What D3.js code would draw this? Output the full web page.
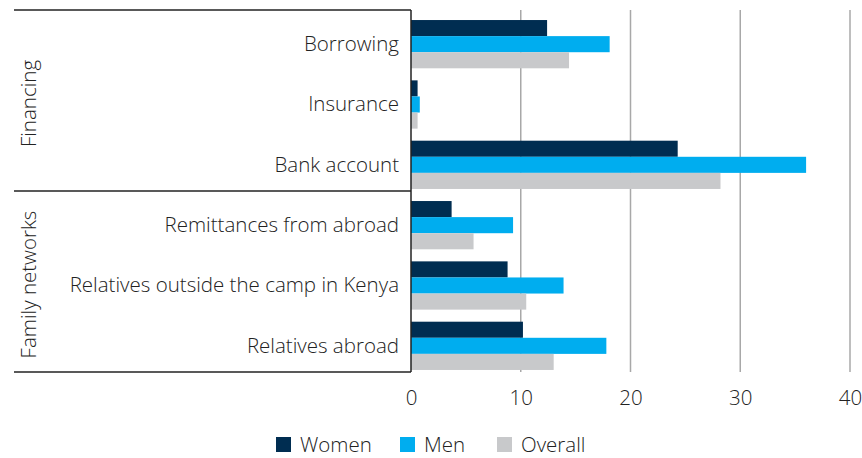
<!DOCTYPE html>
<html>
<head>
<meta charset="utf-8">
<script src="https://cdn.jsdelivr.net/npm/d3@7"></script>
<style>
  body { margin: 0; background: #fff; }
  svg text { font-family: "Open Sans", sans-serif; font-weight: 300; fill: #222; font-size: 20.5px; }
</style>
</head>
<body>
<script>
var categories = ["Borrowing", "Insurance", "Bank account",
  "Remittances from abroad", "Relatives outside the camp in Kenya", "Relatives abroad"];
var groups = [
  {name: "Financing", members: ["Borrowing", "Insurance", "Bank account"]},
  {name: "Family networks", members: ["Remittances from abroad", "Relatives outside the camp in Kenya", "Relatives abroad"]}
];
var seriesNames = ["Women", "Men", "Overall"];
var seriesColors = ["#002d51", "#00adef", "#c8c9cb"];
var women   = [12.4, 0.6, 24.3, 3.7, 8.8, 10.2];
var men     = [18.1, 0.8, 36.0, 9.3, 13.9, 17.8];
var overall = [14.4, 0.6, 28.2, 5.7, 10.5, 13.0];
var xTicks = [0, 10, 20, 30, 40];

var width = 862, height = 458;
var boxTop = 10, boxBottom = 372, boxMid = 191, boxLeft = 14;

var data = categories.map(function(c, i) {
  return {cat: c, vals: [women[i], men[i], overall[i]]};
});

var svg = d3.select("body").append("svg")
  .attr("width", width)
  .attr("height", height);

var x = d3.scaleLinear().domain([0, 40]).range([411, 850]);
var y = d3.scaleBand().domain(categories).range([14, 376]).paddingInner(0.2).paddingOuter(0.1);
var ySub = d3.scaleBand().domain(seriesNames).range([0, y.bandwidth()]);

// gridlines
svg.append("g").selectAll("line")
  .data(xTicks.slice(1))
  .enter().append("line")
    .attr("x1", d => x(d)).attr("x2", d => x(d))
    .attr("y1", boxTop).attr("y2", boxBottom)
    .attr("stroke", "#a8a8a8")
    .attr("stroke-width", 1.5);

// bars
var rows = svg.append("g").selectAll("g")
  .data(data)
  .enter().append("g")
    .attr("transform", d => "translate(0," + y(d.cat) + ")");

rows.selectAll("rect")
  .data(d => d.vals.map((v, i) => ({v: v, s: seriesNames[i], c: seriesColors[i]})))
  .enter().append("rect")
    .attr("x", x(0))
    .attr("y", d => ySub(d.s))
    .attr("width", d => x(d.v) - x(0))
    .attr("height", ySub.bandwidth())
    .attr("fill", d => d.c);

// category labels
svg.append("g").selectAll("text")
  .data(categories)
  .enter().append("text")
    .attr("x", 399)
    .attr("y", d => y(d) + y.bandwidth() / 2)
    .attr("dy", "0.33em")
    .attr("text-anchor", "end")
    .text(d => d);

// group box
var boxLines = [
  [boxLeft, boxTop, x(0), boxTop],
  [boxLeft, boxMid, x(0), boxMid],
  [boxLeft, boxBottom, x(0), boxBottom],
  [x(0), boxTop, x(0), boxBottom]
];
svg.append("g").selectAll("line")
  .data(boxLines)
  .enter().append("line")
    .attr("x1", d => d[0]).attr("y1", d => d[1])
    .attr("x2", d => d[2]).attr("y2", d => d[3])
    .attr("stroke", "#222")
    .attr("stroke-width", 1.5);

var groupSpans = [[boxTop, boxMid], [boxMid, boxBottom]];
svg.append("g").selectAll("text")
  .data(groups)
  .enter().append("text")
    .attr("transform", (d, i) => "translate(36," + ((groupSpans[i][0] + groupSpans[i][1]) / 2 + 3) + ") rotate(-90)")
    .attr("text-anchor", "middle")
    .text(d => d.name);

// x axis tick labels
var xAxis = d3.axisBottom(x).tickValues(xTicks).tickSize(0).tickPadding(0);
var ax = svg.append("g")
  .attr("transform", "translate(0,390)")
  .call(xAxis);
ax.select(".domain").remove();
ax.selectAll("text")
  .style("font-size", "20.5px")
  .style("font-family", "'Open Sans', sans-serif")
  .attr("fill", "#222")
  .attr("dy", "0.72em");

// legend
var legendX = [276, 400, 497];
var leg = svg.append("g").selectAll("g")
  .data(seriesNames)
  .enter().append("g")
    .attr("transform", (d, i) => "translate(" + legendX[i] + ",437)");
leg.append("rect")
  .attr("width", 15).attr("height", 15)
  .attr("fill", (d, i) => seriesColors[i]);
leg.append("text")
  .attr("x", 24).attr("y", 7.5).attr("dy", "0.36em")
  .text(d => d);
</script>
</body>
</html>
